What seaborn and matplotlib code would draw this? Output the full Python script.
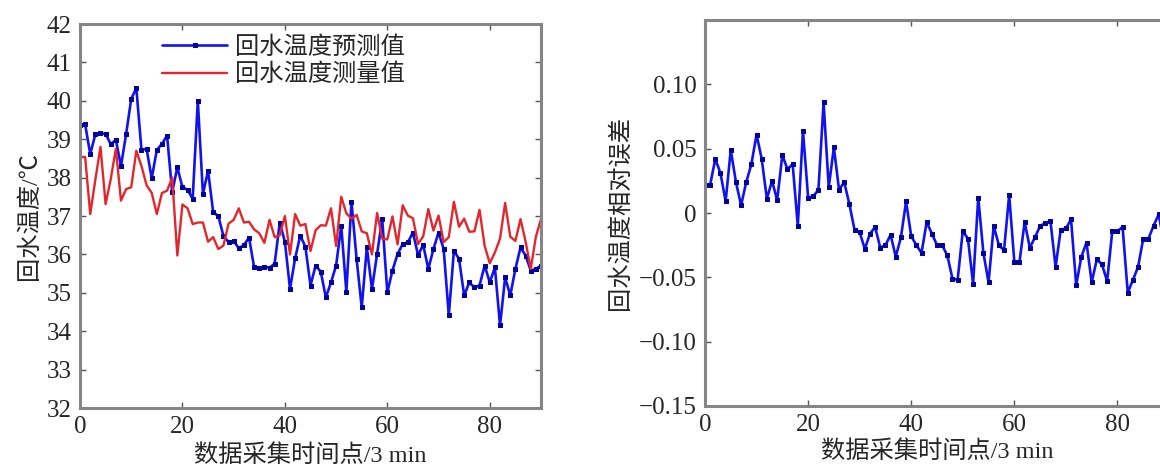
import numpy as np
import pandas as pd
import matplotlib
matplotlib.use("Agg")
import matplotlib.pyplot as plt
import seaborn as sns

# ---- data ----
time_idx = list(range(91))

pred_temp = [39.38, 39.39, 38.61, 39.13, 39.15, 39.14, 38.87, 38.98, 38.30, 39.13,
             40.05, 40.33, 38.72, 38.75, 37.98, 38.72, 38.88, 39.09, 37.62, 38.27,
             37.75, 37.68, 37.45, 40.00, 37.57, 38.18, 37.10, 37.00, 36.48, 36.32,
             36.35, 36.16, 36.24, 36.44, 35.66, 35.64, 35.68, 35.65, 35.76, 36.83,
             36.33, 35.10, 35.90, 36.49, 36.20, 35.19, 35.71, 35.55, 34.88, 35.27,
             35.71, 36.75, 35.03, 37.37, 35.88, 34.62, 36.18, 35.10, 36.01, 36.92,
             35.01, 35.58, 36.01, 36.27, 36.31, 36.57, 35.98, 36.25, 35.62, 36.14,
             36.57, 36.14, 34.41, 36.10, 35.88, 34.93, 35.27, 35.14, 35.19, 35.71,
             35.27, 35.66, 34.15, 35.40, 34.93, 35.62, 36.18, 35.97, 35.58, 35.62,
             35.71]

meas_temp = [38.53, 38.54, 37.05, 37.95, 38.80, 37.31, 37.96, 38.75, 37.40, 37.70,
             37.75, 38.70, 38.30, 37.80, 37.60, 37.05, 37.60, 37.66, 38.00, 35.97,
             37.30, 37.20, 36.79, 36.83, 36.83, 36.33, 36.45, 36.14, 36.23, 36.80,
             36.90, 37.20, 36.83, 36.85, 36.65, 36.55, 36.30, 36.90, 36.45, 36.50,
             37.00, 36.00, 37.05, 36.75, 36.79, 36.09, 36.63, 36.76, 36.75, 37.20,
             36.22, 37.50, 37.07, 36.93, 37.03, 36.60, 36.55, 36.00, 37.08, 36.41,
             36.39, 36.99, 36.26, 37.28, 37.01, 36.94, 36.27, 36.47, 37.18, 36.62,
             37.01, 36.32, 36.45, 37.37, 36.72, 36.93, 36.59, 36.60, 37.16, 36.22,
             35.77, 36.05, 36.41, 37.34, 36.46, 36.35, 36.92, 36.33, 35.62, 36.46,
             36.92]

rel_error = [0.022, 0.022, 0.042, 0.031, 0.009, 0.049, 0.024, 0.006, 0.024, 0.038,
             0.061, 0.042, 0.011, 0.025, 0.010, 0.045, 0.034, 0.038, -0.010, 0.064,
             0.012, 0.013, 0.018, 0.086, 0.020, 0.051, 0.018, 0.024, 0.007, -0.013,
             -0.015, -0.028, -0.016, -0.011, -0.027, -0.025, -0.017, -0.034, -0.019, 0.009,
             -0.018, -0.025, -0.031, -0.007, -0.016, -0.025, -0.025, -0.033, -0.051, -0.052,
             -0.014, -0.020, -0.055, 0.012, -0.031, -0.054, -0.010, -0.025, -0.029, 0.014,
             -0.038, -0.038, -0.007, -0.027, -0.019, -0.010, -0.008, -0.006, -0.042, -0.013,
             -0.012, -0.005, -0.056, -0.034, -0.023, -0.054, -0.036, -0.040, -0.053, -0.014,
             -0.014, -0.011, -0.062, -0.052, -0.042, -0.020, -0.020, -0.010, -0.001, -0.023,
             -0.033]

label_pred = "回水温度预测值"
label_meas = "回水温度测量值"
xlabel = "数据采集时间点/3 min"
ylabel_left = "回水温度/℃"
ylabel_right = "回水温度相对误差"
left_yticks = [32, 33, 34, 35, 36, 37, 38, 39, 40, 41, 42]
right_yticks = [-0.15, -0.10, -0.05, 0, 0.05, 0.10]
right_yticklabels = ["\u22120.15", "\u22120.10", "\u22120.05", "0", "0.05", "0.10"]
xticks = [0, 20, 40, 60, 80]

# ---- style ----
sns.set_style("ticks")
plt.rcParams["font.family"] = ["Liberation Serif", "Noto Sans CJK SC"]
plt.rcParams["axes.unicode_minus"] = True

df_left = pd.DataFrame({"t": time_idx, "pred": pred_temp, "meas": meas_temp})
df_right = pd.DataFrame({"t": time_idx, "err": rel_error})

fig = plt.figure(figsize=(11.6, 4.69), dpi=100)
ax1 = fig.add_axes([80 / 1160, 61 / 469, 461 / 1160, 384 / 469])
ax2 = fig.add_axes([705 / 1160, 63 / 469, 464 / 1160, 386 / 469])

blue = "#1212ee"
mk = "#00009a"
red = "#e3262c"
spine_col = "#858585"

sns.lineplot(data=df_left, x="t", y="pred", ax=ax1, color=blue, lw=1.9,
             marker="s", markersize=3.2, markeredgecolor=mk,
             markerfacecolor=mk, label=label_pred)
sns.lineplot(data=df_left, x="t", y="meas", ax=ax1, color=red, lw=1.7,
             label=label_meas)

sns.lineplot(data=df_right, x="t", y="err", ax=ax2, color=blue, lw=1.9,
             marker="s", markersize=3.2, markeredgecolor=mk,
             markerfacecolor=mk)

tick_fs = 18
lab_fs = 17.5

ax1.set_xlim(0, 90)
ax1.set_ylim(32, 42)
ax1.set_yticks(left_yticks)
ax1.set_yticklabels([str(v) for v in left_yticks])
ax1.set_xticks(xticks)
ax1.set_xticklabels([str(v) for v in xticks])
ax1.set_xlabel(xlabel, fontsize=lab_fs, labelpad=4)
ax1.set_ylabel(ylabel_left, fontsize=lab_fs, labelpad=4)

ax2.set_xlim(0, 90)
ax2.set_ylim(-0.15, 0.15)
ax2.set_yticks(right_yticks)
ax2.set_yticklabels(right_yticklabels)
ax2.set_xticks(xticks)
ax2.set_xticklabels([str(v) for v in xticks])
ax2.set_xlabel(xlabel, fontsize=lab_fs, labelpad=3)
ax2.set_ylabel(ylabel_right, fontsize=lab_fs, labelpad=5)

for ax in (ax1, ax2):
    for s in ax.spines.values():
        s.set_visible(True)
        s.set_color(spine_col)
        s.set_linewidth(2.2)
    ax.tick_params(direction="in", top=True, right=True, length=4, width=1,
                   color="#555555", labelsize=tick_fs, pad=6)
    ax.grid(False)

leg = ax1.legend(loc="upper left", bbox_to_anchor=(0.172, 0.975), frameon=False,
                 fontsize=lab_fs, handlelength=2.7, handletextpad=0.3,
                 labelspacing=0.2, borderaxespad=0.0, borderpad=0.1)

fig.savefig("out.png", dpi=100)
